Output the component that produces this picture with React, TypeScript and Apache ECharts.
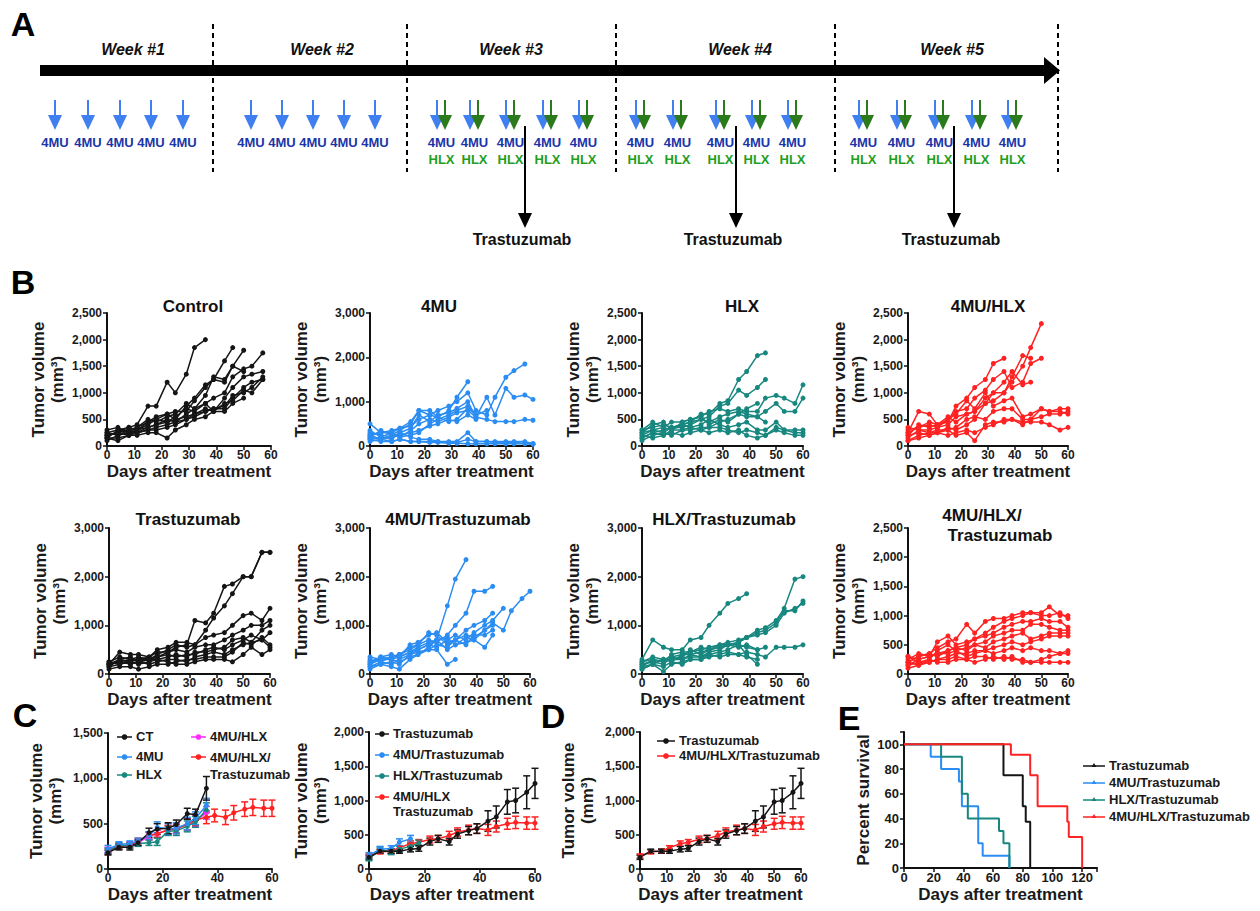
import React, { useEffect, useRef } from "react";
import * as echarts from "echarts";

const FONT = "Liberation Sans, Arial, Helvetica, sans-serif";
const BLACK = "#151515";
const BLUE = "#2b8df2";
const TEAL = "#17877f";
const RED = "#ff2222";
const MAGENTA = "#ff2bff";

// ---------- Panel B: individual tumours (values at measurement days) ----------
const days = [0, 4, 8, 11, 15, 18, 22, 25, 29, 32, 36, 39, 43, 46, 50, 53, 57, 60];

const controlMice = [
  [200, 250, 350, 400, 750, 750, 1200, 1000, 1350, 1850, 2000],
  [150, 300, 250, 300, 450, 550, 600, 500, 750, 900, 1150, 1250, 1600, 1850],
  [250, 200, 300, 350, 500, 450, 550, 600, 800, 700, 950, 1300, 1250, 1500, 1800],
  [200, 250, 200, 300, 400, 500, 450, 550, 700, 650, 800, 900, 1000, 1300, 1450, 1500, 1750],
  [100, 200, 250, 250, 350, 400, 500, 450, 600, 700, 800, 650, 900, 1100, 1300, 1350, 1400],
  [150, 150, 200, 250, 300, 300, 350, 400, 500, 550, 650, 700, 700, 900, 1100, 1200, 1250],
  [300, 350, 250, 350, 450, 500, 600, 650, 650, 850, 1100, 1250, 1200, 1500, 1400],
  [200, 250, 300, 250, 300, 350, 400, 450, 500, 600, 700, 650, 800, 850, 1050, 1000, 1250],
  [150, 100, 200, 200, 250, 250, 150, 300, 400, 500, 550, 650, 650, 800, 900],
  [250, 300, 350, 300, 350, 400, 450, 500, 550, 600, 650, 700, 750, 950, 1000, 1100, 1300],
];
const mu4Mice = [
  [250, 300, 300, 400, 450, 600, 700, 650, 800, 1100, 1450],
  [200, 350, 250, 350, 500, 800, 700, 800, 900, 1000, 1200, 800, 700, 1100, 1550, 1700, 1850],
  [300, 250, 200, 300, 400, 700, 550, 700, 750, 850, 1000, 650, 1100, 700, 1300, 1100, 1150, 1050],
  [150, 200, 300, 200, 350, 500, 600, 550, 650, 750, 800, 650, 600, 550, 550, 550, 600, 580],
  [500, 300, 350, 400, 550, 800, 800, 650, 550, 600, 850, 700, 800],
  [250, 150, 200, 250, 300, 350, 450, 500, 600, 550, 700, 600],
  [350, 200, 150, 300, 200, 150, 150, 100, 100, 100, 300, 100, 100, 100, 100, 100, 100, 50],
  [150, 100, 100, 150, 100, 100, 100, 100, 80, 80, 150, 100, 100, 80, 80, 80, 60, 50],
  [200, 150, 250, 200, 250, 300, 500, 600, 700, 800, 900, 700],
  [100, 150, 100, 150, 100, 100, 80, 80, 60, 60, 50, 50, 50, 50, 50, 50, 50, 40],
];
const hlxMice = [
  [200, 300, 350, 300, 400, 450, 600, 600, 800, 850, 1250, 1400, 1700, 1750],
  [150, 250, 300, 350, 400, 450, 500, 550, 750, 800, 1050, 950, 1100, 1250],
  [250, 400, 450, 300, 450, 500, 550, 650, 700, 650, 700, 650, 650, 900, 950, 900, 800, 1150],
  [300, 350, 400, 350, 350, 400, 500, 450, 550, 600, 650, 600, 550, 650, 800, 650, 650, 900],
  [250, 300, 250, 350, 400, 350, 400, 500, 400, 350, 400, 450, 300, 300, 450, 300, 300, 300],
  [150, 250, 200, 300, 300, 300, 350, 350, 350, 300, 250, 300, 250, 200, 350, 300, 250, 250],
  [200, 150, 200, 250, 200, 250, 300, 250, 300, 250, 300, 200, 150, 200, 300, 250, 200, 200],
  [300, 450, 350, 450, 450, 500, 550, 400, 500, 450, 600, 550, 550, 450],
  [100, 200, 250, 200, 300, 350, 300, 350, 450, 500, 600, 700, 800],
];
const mu4HlxMice = [
  [200, 400, 350, 400, 450, 750, 900, 1100, 1250, 1550, 1650],
  [150, 300, 250, 250, 350, 300, 400, 500, 800, 1000, 1000, 1200, 1500, 1850, 2300],
  [250, 650, 600, 400, 500, 650, 700, 900, 1050, 1250, 1400, 1100, 1200, 1550, 1650],
  [300, 350, 450, 400, 550, 450, 600, 650, 800, 850, 1000, 1300, 1700, 1650],
  [350, 300, 300, 350, 500, 600, 850, 700, 1000, 750, 850, 900, 550, 600, 700, 650, 700, 700],
  [100, 200, 250, 300, 300, 350, 500, 550, 500, 650, 700, 700, 500, 500, 700, 650, 650, 600],
  [200, 250, 200, 250, 300, 200, 250, 100, 400, 450, 450, 500, 450, 450, 450, 400, 300, 350],
  [250, 350, 400, 350, 400, 550, 600, 650, 900, 1000, 1200, 1400, 1150, 1200],
  [100, 150, 200, 250, 200, 250, 300, 250, 350, 400, 500, 500, 400, 500, 550, 600, 600, 650],
];
const trastMice = [
  [200, 250, 300, 300, 350, 450, 450, 550, 600, 1100, 1050, 1250, 1800, 1850, 2000, 2000, 2500, 2500],
  [150, 300, 350, 250, 300, 400, 500, 600, 550, 600, 900, 1150, 1400, 1650, 2000, 2000, 2500, 2500],
  [200, 450, 400, 400, 350, 500, 550, 650, 650, 600, 750, 800, 850, 1000, 1200, 1250, 1100, 1350],
  [250, 350, 300, 350, 300, 350, 450, 500, 450, 550, 600, 600, 700, 800, 900, 1000, 1000, 1100],
  [150, 200, 250, 200, 250, 300, 350, 400, 350, 450, 450, 500, 550, 700, 750, 650, 900, 1000],
  [200, 250, 200, 250, 200, 250, 300, 300, 250, 350, 400, 450, 400, 500, 600, 650, 700, 850],
  [100, 150, 150, 100, 150, 200, 200, 250, 300, 300, 350, 350, 350, 450, 650, 600, 750, 600],
  [250, 200, 300, 250, 300, 350, 400, 350, 400, 400, 500, 550, 500, 600, 700, 800, 700, 550],
  [200, 300, 250, 300, 300, 300, 250, 200, 200, 250, 300, 300, 300, 250, 400, 550, 400, 500],
];
const mu4TrastMice = [
  [250, 350, 300, 350, 450, 550, 650, 700, 1400, 1950, 2350],
  [200, 300, 350, 400, 550, 600, 700, 650, 800, 1000, 1250, 1700, 1700, 1800],
  [300, 250, 350, 350, 600, 650, 800, 850, 650, 700, 800, 750, 900, 1050, 900, 1300, 1550, 1700],
  [150, 250, 200, 300, 400, 450, 500, 600, 550, 700, 900, 1000, 1100, 1250],
  [200, 350, 400, 350, 450, 500, 600, 550, 700, 800, 700, 850, 1000, 1100, 1350],
  [100, 200, 150, 100, 300, 400, 500, 500, 200, 300],
  [250, 300, 300, 250, 350, 400, 550, 700, 750, 600, 650, 700, 550, 800],
  [350, 300, 350, 400, 500, 600, 850, 800, 600, 700, 600, 800, 800, 900],
  [150, 200, 250, 200, 400, 500, 600, 700, 500, 600, 750, 700, 900, 1000],
];
const hlxTrastMice = [
  [300, 700, 550, 500, 500, 700, 750, 1000, 1250, 1450, 1550, 1650],
  [150, 300, 250, 400, 450, 450, 500, 550, 600, 650, 700, 750, 900, 950, 1100, 1350, 1950, 2000],
  [200, 250, 300, 250, 400, 400, 450, 500, 550, 600, 650, 750, 850, 900, 1050, 1300, 1300, 1500],
  [100, 200, 300, 300, 350, 500, 400, 500, 550, 600, 650, 750, 800, 850, 1000, 1250, 1350, 1450],
  [250, 300, 250, 300, 300, 350, 350, 400, 350, 400, 400, 450, 400, 350, 550, 550, 550, 600],
  [200, 250, 200, 350, 300, 400, 350, 450, 500, 600, 550, 600, 500, 550],
  [150, 200, 50, 200, 250, 300, 300, 350, 400, 450, 400, 350, 300],
  [250, 350, 300, 350, 400, 450, 550, 500, 600, 600, 600, 550, 500],
  [100, 200, 150, 250, 200, 300, 300, 400, 450, 500, 600, 400, 200],
];
const tripleMice = [
  [200, 300, 350, 450, 550, 600, 850, 700, 900, 950, 950, 1000, 1050, 1050, 1050, 1150, 1000, 1000],
  [250, 350, 300, 550, 650, 500, 550, 600, 700, 800, 900, 950, 1000, 1050, 1000, 1000, 1050, 950],
  [150, 250, 300, 350, 400, 450, 500, 600, 650, 700, 800, 850, 900, 900, 950, 900, 900, 800],
  [300, 200, 250, 400, 500, 400, 450, 500, 550, 650, 700, 750, 750, 850, 850, 800, 750, 750],
  [200, 300, 350, 300, 400, 450, 400, 500, 450, 550, 600, 650, 700, 600, 650, 700, 700, 700],
  [100, 150, 200, 250, 300, 350, 350, 400, 400, 450, 500, 550, 500, 550, 600, 650, 650, 650],
  [300, 250, 300, 350, 350, 400, 300, 350, 400, 350, 400, 450, 400, 450, 400, 400, 350, 400],
  [150, 200, 200, 250, 250, 300, 250, 300, 300, 250, 300, 250, 250, 200, 250, 300, 350, 350],
  [200, 150, 250, 200, 200, 250, 250, 200, 250, 300, 250, 300, 200, 200, 200, 200, 200, 200],
];

// ---------- Panels C / D: mean ± SEM ----------
const cDays = [0, 4, 8, 11, 15, 18, 22, 25, 29, 32, 36];
const ctMean = [180, 240, 240, 290, 400, 440, 450, 490, 610, 600, 890];
const ctErr = [25, 30, 30, 30, 50, 60, 60, 50, 60, 60, 130];
const mu4Mean = [220, 270, 280, 310, 370, 460, 440, 450, 500, 560, 700];
const mu4Err = [40, 30, 30, 30, 40, 60, 60, 60, 70, 70, 80];
const hlxMean = [200, 260, 260, 280, 290, 300, 420, 420, 470, 520, 650];
const hlxErr = [30, 30, 30, 30, 30, 40, 50, 50, 60, 60, 80];
const mu4HlxMean = [210, 250, 270, 290, 360, 390, 430, 450, 490, 530, 620];
const mu4HlxErr = [30, 30, 30, 30, 40, 40, 50, 50, 60, 60, 70];
const tripleMean = [190, 250, 260, 310, 370, 390, 430, 440, 490, 540, 570, 590, 570, 620, 660, 680, 670, 670];
const tripleErr = [30, 30, 30, 30, 40, 40, 50, 50, 60, 60, 70, 70, 80, 80, 80, 90, 90, 90];
const trastMean = [170, 260, 260, 260, 290, 300, 400, 440, 400, 510, 560, 590, 700, 760, 980, 1000, 1120, 1250];
const trastErr = [30, 30, 30, 30, 40, 40, 50, 50, 50, 60, 60, 70, 150, 160, 180, 180, 240, 220];
const mtDays = [0, 4, 8, 11, 15];
const mu4TrastMean = [200, 290, 300, 390, 440];
const mu4TrastErr = [40, 40, 40, 50, 50];
const htDays = [0, 4, 8, 11, 15, 18];
const hlxTrastMean = [150, 280, 250, 290, 330, 380];
const hlxTrastErr = [30, 40, 40, 40, 40, 40];

// ---------- Panel E: survival ----------
const survTrast = [[0, 100], [67, 75], [80, 50], [82, 37.5], [85, 0]];
const survMu4Trast = [[0, 100], [18, 90], [25, 80], [37, 70], [39, 50], [50, 20], [53, 10], [71, 0]];
const survHlxTrast = [[0, 100], [25, 90], [39, 60], [43, 40], [64, 30], [67, 20], [71, 0]];
const survTriple = [[0, 100], [72, 91.7], [85, 75], [90, 50], [110, 37.5], [111, 25], [120, 0]];

// ---------- layout ----------
const bPanels = [
  { title: ["Control"], mice: controlMice, color: BLACK, ymax: 2500, yint: 500, left: 107, top: 313, width: 164, height: 133, tx: 193, ty: 306 },
  { title: ["4MU"], mice: mu4Mice, color: BLUE, ymax: 3000, yint: 1000, left: 370, top: 313, width: 163, height: 133, tx: 439, ty: 306 },
  { title: ["HLX"], mice: hlxMice, color: TEAL, ymax: 2500, yint: 500, left: 642, top: 313, width: 161, height: 133, tx: 742, ty: 306 },
  { title: ["4MU/HLX"], mice: mu4HlxMice, color: RED, ymax: 2500, yint: 500, left: 908, top: 313, width: 160, height: 133, tx: 988, ty: 306 },
  { title: ["Trastuzumab"], mice: trastMice, color: BLACK, ymax: 3000, yint: 1000, left: 109, top: 528, width: 161, height: 146, tx: 188, ty: 519 },
  { title: ["4MU/Trastuzumab"], mice: mu4TrastMice, color: BLUE, ymax: 3000, yint: 1000, left: 370, top: 528, width: 160, height: 146, tx: 458, ty: 519 },
  { title: ["HLX/Trastuzumab"], mice: hlxTrastMice, color: TEAL, ymax: 3000, yint: 1000, left: 642, top: 528, width: 161, height: 146, tx: 724, ty: 519 },
  { title: ["4MU/HLX/", "Trastuzumab"], mice: tripleMice, color: RED, ymax: 2500, yint: 500, left: 908, top: 528, width: 160, height: 146, tx: 990, ty: 515 },
];

const fmt = (v: number) => v.toLocaleString("en-US");

function textEl(text: string, x: number, y: number, font: string, fill: string, align = "center", vAlign = "middle", extra: any = {}) {
  return {
    type: "text",
    x,
    y,
    silent: true,
    style: { text, font, fill, align, verticalAlign: vAlign, textAlign: align, textVerticalAlign: vAlign, ...extra },
  };
}

function downArrow(x: number, y1: number, y2: number, color: string, headW: number, headH: number, lw: number) {
  return [
    { type: "line", silent: true, shape: { x1: x, y1, x2: x, y2: y2 - headH + 1 }, style: { stroke: color, lineWidth: lw } },
    { type: "polygon", silent: true, shape: { points: [[x - headW / 2, y2 - headH], [x + headW / 2, y2 - headH], [x, y2]] }, style: { fill: color } },
  ];
}

function legendItem(x: number, y: number, len: number, color: string, label: string, symbol: string, fontSize = 13, lineHeight = 15) {
  const els: any[] = [
    { type: "line", silent: true, shape: { x1: x, y1: y, x2: x + len, y2: y }, style: { stroke: color, lineWidth: 1.5 } },
  ];
  const cx = x + len / 2;
  if (symbol === "circle") els.push({ type: "circle", silent: true, shape: { cx, cy: y, r: 2.8 }, style: { fill: color } });
  if (symbol === "triangle") els.push({ type: "polygon", silent: true, shape: { points: [[cx - 2.5, y + 1], [cx + 2.5, y + 1], [cx, y - 3]] }, style: { fill: color } });
  els.push(textEl(label, x + len + 4, y - 8, `bold ${fontSize}px ${FONT}`, "#1a1a1a", "left", "top", { lineHeight }));
  return els;
}

function panelAGraphics() {
  const g: any[] = [];
  const ARROW_BLUE = "#3f7ff0";
  const ARROW_GREEN = "#2b7a1b";
  const LBL_BLUE = "#1b35a8";
  const LBL_GREEN = "#1f9e1f";
  g.push(textEl("A", 23, 24, `bold 34px ${FONT}`, "#000"));
  g.push({ type: "rect", silent: true, shape: { x: 40, y: 65, width: 1006, height: 11 }, style: { fill: "#000" } });
  g.push({ type: "polygon", silent: true, shape: { points: [[1044, 57], [1060, 70.5], [1044, 84]] }, style: { fill: "#000" } });
  [213, 407, 616, 835, 1058].forEach((x) =>
    g.push({ type: "line", silent: true, shape: { x1: x, y1: 24, x2: x, y2: 172 }, style: { stroke: "#000", lineWidth: 2, lineDash: [5, 4] } })
  );
  const weeks = ["Week #1", "Week #2", "Week #3", "Week #4", "Week #5"];
  const weekX = [133, 322, 511, 740, 952];
  weeks.forEach((w, i) => g.push(textEl(w, weekX[i], 49, `italic bold 16px ${FONT}`, "#111")));
  const single = [55, 88, 120, 151, 183, 251, 282, 313, 344, 375];
  single.forEach((x) => {
    g.push(...downArrow(x, 100, 130, ARROW_BLUE, 14, 15, 2));
    g.push(textEl("4MU", x, 142, `bold 13px ${FONT}`, LBL_BLUE));
  });
  const combo = [437, 470, 506, 543, 579, 636, 673, 716, 752, 788, 859, 897, 935, 972, 1008];
  combo.forEach((x) => {
    g.push(...downArrow(x, 100, 130, ARROW_BLUE, 14, 15, 2));
    g.push(...downArrow(x + 8, 100, 130, ARROW_GREEN, 14, 15, 2));
    g.push(textEl("4MU", x + 4.5, 142, `bold 13px ${FONT}`, LBL_BLUE));
    g.push(textEl("HLX", x + 4.5, 159, `bold 13px ${FONT}`, LBL_GREEN));
  });
  [525, 736, 954].forEach((x) => {
    g.push(...downArrow(x, 126, 228, "#000", 14, 15, 2));
    g.push(textEl("Trastuzumab", x - 3, 239, `bold 16px ${FONT}`, "#111"));
  });
  return g;
}

function errSeries(idx: number, xs: number[], mean: number[], err: number[], color: string) {
  return {
    type: "custom",
    xAxisIndex: idx,
    yAxisIndex: idx,
    silent: true,
    z: 3,
    encode: { x: 0, y: [1, 2] },
    data: mean.map((m, i) => [xs[i], m - err[i], m + err[i]]),
    renderItem: (_params: any, api: any) => {
      const x = api.value(0);
      const a = api.coord([x, api.value(1)]);
      const b = api.coord([x, api.value(2)]);
      const w = 3.5;
      const st = { stroke: color, lineWidth: 1.5 };
      return {
        type: "group",
        children: [
          { type: "line", shape: { x1: a[0], y1: a[1], x2: b[0], y2: b[1] }, style: st },
          { type: "line", shape: { x1: a[0] - w, y1: a[1], x2: a[0] + w, y2: a[1] }, style: st },
          { type: "line", shape: { x1: b[0] - w, y1: b[1], x2: b[0] + w, y2: b[1] }, style: st },
        ],
      };
    },
  };
}

function meanSeries(idx: number, name: string, xs: number[], mean: number[], color: string) {
  return {
    type: "line",
    name,
    xAxisIndex: idx,
    yAxisIndex: idx,
    data: mean.map((m, i) => [xs[i], m]),
    symbol: "circle",
    symbolSize: 5,
    lineStyle: { color, width: 1.5 },
    itemStyle: { color },
    z: 4,
  };
}

function axisPair(idx: number, o: any) {
  const axisLine = { show: true, lineStyle: { color: "#111", width: 2 } };
  const axisTick = { show: true, length: 4, lineStyle: { color: "#111", width: 1.5 } };
  const label = { fontFamily: FONT, fontWeight: "bold", fontSize: o.labelSize || 12, color: "#1a1a1a" };
  const nameStyle = { fontFamily: FONT, fontWeight: "bold", fontSize: 17, color: "#1a1a1a", lineHeight: 19 };
  return {
    x: {
      type: "value",
      gridIndex: idx,
      min: 0,
      max: o.xmax,
      interval: o.xint,
      axisLine,
      axisTick,
      splitLine: { show: false },
      axisLabel: { ...label, margin: 3, formatter: (v: number) => (v > o.xlabelMax ? "" : String(v)) },
      name: "Days after treatment",
      nameLocation: "middle",
      nameGap: o.xNameGap ?? 16,
      nameTextStyle: nameStyle,
    },
    y: {
      type: "value",
      gridIndex: idx,
      min: 0,
      max: o.ymax,
      interval: o.yint,
      axisLine,
      axisTick,
      splitLine: { show: false },
      axisLabel: { ...label, margin: 5, formatter: (v: number) => (v > o.ylabelMax ? "" : fmt(v)) },
      name: o.yname,
      nameLocation: "middle",
      nameGap: o.yNameGap,
      nameTextStyle: nameStyle,
    },
  };
}

function buildOption() {
  const grid: any[] = [];
  const xAxis: any[] = [];
  const yAxis: any[] = [];
  const series: any[] = [];
  const graphic: any[] = [...panelAGraphics()];
  const TV = "Tumor volume\n(mm³)";

  bPanels.forEach((p, idx) => {
    grid.push({ left: p.left, top: p.top, width: p.width, height: p.height, containLabel: false });
    const ax = axisPair(idx, { xmax: 60, xint: 10, xlabelMax: 60, ymax: p.ymax, yint: p.yint, ylabelMax: p.ymax, yname: TV, yNameGap: 40 });
    xAxis.push(ax.x);
    yAxis.push(ax.y);
    p.mice.forEach((m, k) =>
      series.push({
        type: "line",
        name: `${p.title.join("")} #${k + 1}`,
        xAxisIndex: idx,
        yAxisIndex: idx,
        data: m.map((v, i) => [days[i], v]),
        symbol: "circle",
        symbolSize: 5,
        lineStyle: { color: p.color, width: 1.5 },
        itemStyle: { color: p.color },
      })
    );
    if (p.title.length === 1) graphic.push(textEl(p.title[0], p.tx, p.ty, `bold 17px ${FONT}`, "#111"));
    else {
      graphic.push(textEl(p.title[0], p.tx - 8, p.ty, `bold 17px ${FONT}`, "#111"));
      graphic.push(textEl(p.title[1], p.tx + 10, p.ty + 20, `bold 17px ${FONT}`, "#111"));
    }
  });
  graphic.push(textEl("B", 23, 282, `bold 34px ${FONT}`, "#000"));

  // C1
  grid.push({ left: 108, top: 733, width: 164, height: 136 });
  let ax = axisPair(8, { xmax: 60, xint: 20, xlabelMax: 60, ymax: 1500, yint: 500, ylabelMax: 1500, yname: TV, yNameGap: 43 });
  xAxis.push(ax.x);
  yAxis.push(ax.y);
  series.push(errSeries(8, cDays, mu4HlxMean, mu4HlxErr, MAGENTA), meanSeries(8, "4MU/HLX", cDays, mu4HlxMean, MAGENTA));
  series.push(errSeries(8, days, tripleMean, tripleErr, RED), meanSeries(8, "4MU/HLX/Trastuzumab", days, tripleMean, RED));
  series.push(errSeries(8, cDays, hlxMean, hlxErr, TEAL), meanSeries(8, "HLX", cDays, hlxMean, TEAL));
  series.push(errSeries(8, cDays, mu4Mean, mu4Err, BLUE), meanSeries(8, "4MU", cDays, mu4Mean, BLUE));
  series.push(errSeries(8, cDays, ctMean, ctErr, BLACK), meanSeries(8, "CT", cDays, ctMean, BLACK));
  graphic.push(textEl("C", 25, 715, `bold 34px ${FONT}`, "#000"));
  graphic.push(...legendItem(117, 737, 15, BLACK, "CT", "circle"));
  graphic.push(...legendItem(117, 757, 15, BLUE, "4MU", "circle"));
  graphic.push(...legendItem(117, 775, 15, TEAL, "HLX", "circle"));
  graphic.push(...legendItem(191, 737, 15, MAGENTA, "4MU/HLX", "circle"));
  graphic.push(...legendItem(191, 757, 15, RED, "4MU/HLX/\nTrastuzumab", "circle", 13, 17));

  // C2
  grid.push({ left: 369, top: 732, width: 166, height: 137 });
  ax = axisPair(9, { xmax: 60, xint: 20, xlabelMax: 60, ymax: 2000, yint: 500, ylabelMax: 2000, yname: TV, yNameGap: 37 });
  xAxis.push(ax.x);
  yAxis.push(ax.y);
  series.push(errSeries(9, days, tripleMean, tripleErr, RED), meanSeries(9, "4MU/HLX Trastuzumab", days, tripleMean, RED));
  series.push(errSeries(9, htDays, hlxTrastMean, hlxTrastErr, TEAL), meanSeries(9, "HLX/Trastuzumab", htDays, hlxTrastMean, TEAL));
  series.push(errSeries(9, mtDays, mu4TrastMean, mu4TrastErr, BLUE), meanSeries(9, "4MU/Trastuzumab", mtDays, mu4TrastMean, BLUE));
  series.push(errSeries(9, days, trastMean, trastErr, BLACK), meanSeries(9, "Trastuzumab", days, trastMean, BLACK));
  graphic.push(...legendItem(375, 734, 14, BLACK, "Trastuzumab", "circle"));
  graphic.push(...legendItem(375, 755, 14, BLUE, "4MU/Trastuzumab", "circle"));
  graphic.push(...legendItem(375, 776, 14, TEAL, "HLX/Trastuzumab", "circle"));
  graphic.push(...legendItem(375, 797, 14, RED, "4MU/HLX\nTrastuzumab", "circle", 13, 15));

  // D
  grid.push({ left: 640, top: 732, width: 161, height: 137 });
  ax = axisPair(10, { xmax: 60, xint: 10, xlabelMax: 60, ymax: 2000, yint: 500, ylabelMax: 2000, yname: TV, yNameGap: 43 });
  xAxis.push(ax.x);
  yAxis.push(ax.y);
  series.push(errSeries(10, days, tripleMean, tripleErr, RED), meanSeries(10, "4MU/HLX/Trastuzumab", days, tripleMean, RED));
  series.push(errSeries(10, days, trastMean, trastErr, BLACK), meanSeries(10, "Trastuzumab", days, trastMean, BLACK));
  graphic.push(textEl("D", 553, 716, `bold 34px ${FONT}`, "#000"));
  graphic.push(...legendItem(657, 741, 18, BLACK, "Trastuzumab", "circle"));
  graphic.push(...legendItem(657, 756, 18, RED, "4MU/HLX/Trastuzumab", "circle"));

  // E
  grid.push({ left: 904, top: 732, width: 193, height: 136 });
  ax = axisPair(11, { xmax: 130, xint: 20, xlabelMax: 120, ymax: 110, yint: 20, ylabelMax: 100, yname: "Percent survival", yNameGap: 31, labelSize: 13, xNameGap: 14 });
  xAxis.push(ax.x);
  yAxis.push(ax.y);
  const surv: [string, number[][], string][] = [
    ["Trastuzumab", survTrast, BLACK],
    ["4MU/Trastuzumab", survMu4Trast, BLUE],
    ["HLX/Trastuzumab", survHlxTrast, TEAL],
    ["4MU/HLX/Trastuzumab", survTriple, RED],
  ];
  surv.forEach(([name, d, c]) =>
    series.push({
      type: "line",
      name,
      xAxisIndex: 11,
      yAxisIndex: 11,
      step: "end",
      data: d,
      symbol: "none",
      lineStyle: { color: c, width: 2 },
      itemStyle: { color: c },
    })
  );
  graphic.push(textEl("E", 849, 718, `bold 34px ${FONT}`, "#000"));
  surv.forEach(([name, _d, c], i) => graphic.push(...legendItem(1083, 766 + i * 17, 22, c, name, "triangle")));

  return {
    animation: false,
    backgroundColor: "#ffffff",
    textStyle: { fontFamily: FONT },
    grid,
    xAxis,
    yAxis,
    series,
    graphic: { elements: graphic },
  };
}

export default function App() {
  const ref = useRef<HTMLDivElement>(null);
  useEffect(() => {
    if (!ref.current) return;
    const chart = echarts.init(ref.current, undefined, { renderer: "svg" });
    chart.setOption(buildOption() as any);
    return () => chart.dispose();
  }, []);
  return (
    <div
      ref={ref}
      style={{ position: "absolute", left: 0, top: 0, width: 1260, height: 911, background: "#fff" }}
    />
  );
}
